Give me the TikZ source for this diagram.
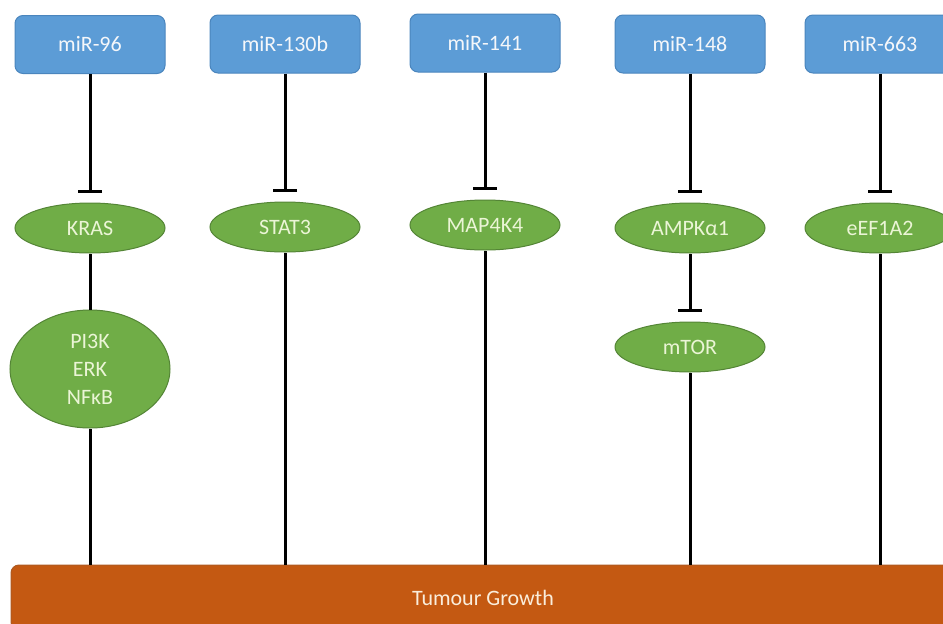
\documentclass[tikz,border=0pt]{standalone}
\usepackage{fontspec}
\setmainfont{Carlito}
\usetikzlibrary{shapes.geometric}
\usetikzlibrary{arrows.meta}
\usetikzlibrary{positioning}
\definecolor{MirBlue}{rgb}{.36,.61,.84}
\definecolor{MirBlueLine}{rgb}{.29,.52,.74}
\definecolor{TargetGreen}{rgb}{.44,.68,.28}
\definecolor{TargetGreenLine}{rgb}{.33,.52,.21}
\definecolor{GrowthOrange}{rgb}{.77,.35,.07}
\definecolor{GrowthOrangeLine}{rgb}{.68,.35,.13}
\definecolor{BoxText}{rgb}{.96,.97,.98}
\definecolor{TargetText}{rgb}{.92,.96,.84}
\definecolor{GrowthText}{rgb}{.98,.93,.86}
\tikzset{
  mirna/.style={rectangle, rounded corners=8pt, fill=MirBlue, draw=MirBlueLine, line width=1pt,
    minimum width=150pt, minimum height=58pt, inner sep=0pt, text=BoxText},
  target/.style={ellipse, fill=TargetGreen, draw=TargetGreenLine, line width=1pt,
    minimum width=150pt, minimum height=50pt, inner sep=0pt, text=TargetText, align=center},
  inhibit/.style={line width=3pt, -{Bar[width=24pt, line width=3pt]}, shorten >=10pt},
  link/.style={line width=3pt}
}

\begin{document}
\begin{tikzpicture}[x=1pt, y=-1pt, font=\fontsize{22}{28}\selectfont]
  \useasboundingbox (0,0) rectangle (943,624);
  %
  % microRNAs
  \node [mirna] (mir96) at (90,44.5) {miR-96};
  \node [mirna] (mir130b) at (285,44) {miR-130b};
  \node [mirna] (mir141) at (485,43) {miR-141};
  \node [mirna] (mir148) at (690,44) {miR-148};
  \node [mirna] (mir663) at (880,44) {miR-663};
  %
  % targets
  \node [target] (kras) at (90,228) {KRAS};
  \node [target] (stat3) at (285,227) {STAT3};
  \node [target] (map4k4) at (485,225) {MAP4K4};
  \node [target] (ampk) at (690,228) {AMPKα1};
  \node [target] (eef1a2) at (880,228) {eEF1A2};
  \node [target] (mtor) at (690,347) {mTOR};
  \node [target, minimum width=160pt, minimum height=118pt] (sig) at (90,369) {PI3K\\ERK\\NFκB};
  %
  % outcome
  \node [rectangle, rounded corners=8pt, fill=GrowthOrange, draw=GrowthOrangeLine, line width=1pt,
    minimum width=944pt, minimum height=65pt, inner sep=0pt, text=GrowthText] (growth) at (483,597.5) {Tumour Growth};
  %
  \draw [inhibit] (mir96) -- (kras);
  \draw [inhibit] (mir130b) -- (stat3);
  \draw [inhibit] (mir141) -- (map4k4);
  \draw [inhibit] (mir148) -- (ampk);
  \draw [inhibit] (mir663) -- (eef1a2);
  \draw [inhibit] (ampk) -- (mtor);
  %
  \draw [link] (kras) -- (sig);
  \draw [link] (sig.south) -- (sig.south |- growth.north);
  \draw [link] (stat3.south) -- (stat3.south |- growth.north);
  \draw [link] (map4k4.south) -- (map4k4.south |- growth.north);
  \draw [link] (mtor.south) -- (mtor.south |- growth.north);
  \draw [link] (eef1a2.south) -- (eef1a2.south |- growth.north);
\end{tikzpicture}
\end{document}
